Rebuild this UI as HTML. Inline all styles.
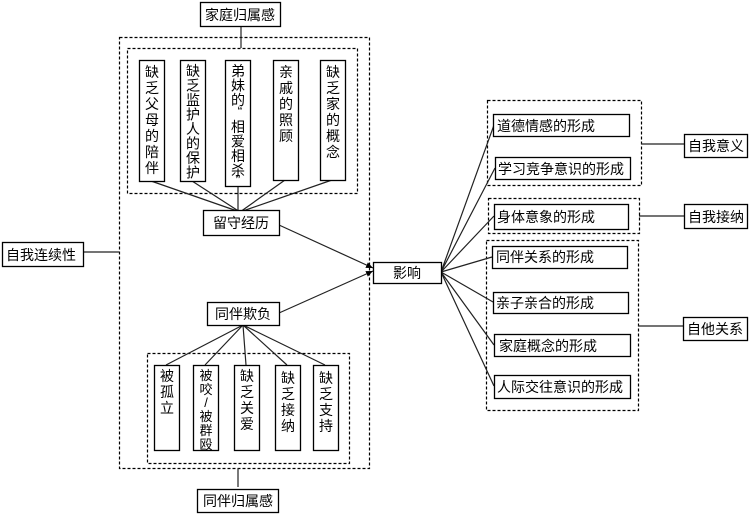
<!DOCTYPE html>
<html><head><meta charset="utf-8"><style>
body{margin:0;background:#fff}
svg{display:block}
text{font-family:"Liberation Sans","Noto Sans CJK SC",sans-serif;font-size:14px;fill:#000}
.v text{font-size:14px}
.b{fill:#fff;stroke:#000;stroke-width:1.3}
.d{fill:none;stroke:#000;stroke-width:1.2;stroke-dasharray:3,2}
.l{stroke:#222;stroke-width:1.2;fill:none}
</style></head><body>
<svg width="751" height="514" viewBox="0 0 751 514">
<defs><marker id="a" markerUnits="userSpaceOnUse" markerWidth="7" markerHeight="6" refX="7" refY="3" orient="auto"><path d="M0,0L7,3L0,6z" fill="#000"/></marker></defs>
<rect class="d" x="119.5" y="37.5" width="250" height="431"/>
<rect class="d" x="127.5" y="48.5" width="230" height="145"/>
<rect class="d" x="147.5" y="353.5" width="202" height="110"/>
<rect class="d" x="487.5" y="100.5" width="154" height="85"/>
<rect class="d" x="488.5" y="198.5" width="151" height="35"/>
<rect class="d" x="486.5" y="240.5" width="152" height="170"/>
<path class="l" d="M241 27V48M238 487V468M84 252H119M641 144H684M639 216H684M638 326H683"/>
<path class="l" d="M151 181L240 212M192 181L240 212M238 186V212M285 180L240 212M332 180L240 212"/>
<path class="l" d="M243 325L166 365M243 325L205 365M243 325L246 365M243 325L287 365M243 325L325 365"/>
<path class="l" d="M279 225L373 268" marker-end="url(#a)"/>
<path class="l" d="M279 313L373 271" marker-end="url(#a)"/>
<path class="l" d="M441 272L494 125M441 272L495 168M441 272L494 216M441 272L492 257M441 272L493 302M441 272L494 345M441 272L494 386"/>
<rect class="b" x="200.5" y="2.5" width="80" height="24"/><text x="205" y="20">家庭归属感</text>
<rect class="b" x="2.5" y="242.5" width="81" height="24"/><text x="6" y="260">自我连续性</text>
<rect class="b" x="203.5" y="210.5" width="76" height="25"/><text x="213" y="228">留守经历</text>
<rect class="b" x="207.5" y="302.5" width="72" height="23"/><text x="215" y="319">同伴欺负</text>
<rect class="b" x="197.5" y="489.5" width="81" height="23"/><text x="203" y="506">同伴归属感</text>
<rect class="b" x="373.5" y="262.5" width="68" height="21"/><text x="393" y="278">影响</text>
<rect class="b" x="139.5" y="60.5" width="25" height="121"/>
<rect class="b" x="180.5" y="60.5" width="25" height="121"/>
<rect class="b" x="225.5" y="60.5" width="25" height="126"/>
<rect class="b" x="273.5" y="60.5" width="25" height="120"/>
<rect class="b" x="320.5" y="60.5" width="25" height="120"/>
<g text-anchor="middle" class="v">
<text y="77"><tspan x="152">缺</tspan><tspan x="152" dy="16">乏</tspan><tspan x="152" dy="16">父</tspan><tspan x="152" dy="16">母</tspan><tspan x="152" dy="16">的</tspan><tspan x="152" dy="16">陪</tspan><tspan x="152" dy="16">伴</tspan></text>
<text y="76"><tspan x="193">缺</tspan><tspan x="193" dy="14.5">乏</tspan><tspan x="193" dy="14.5">监</tspan><tspan x="193" dy="14.5">护</tspan><tspan x="193" dy="14.5">人</tspan><tspan x="193" dy="14.5">的</tspan><tspan x="193" dy="14.5">保</tspan><tspan x="193" dy="14.5">护</tspan></text>
<text y="76"><tspan x="238">弟</tspan><tspan x="238" dy="14.5">妹</tspan><tspan x="238" dy="14.5">的</tspan><tspan x="240" dy="11">“</tspan><tspan x="238" dy="16">相</tspan><tspan x="238" dy="14.5">爱</tspan><tspan x="238" dy="14.5">相</tspan><tspan x="238" dy="14.5">杀</tspan><tspan x="238" dy="9">”</tspan></text>
<text y="77"><tspan x="286">亲</tspan><tspan x="286" dy="16">戚</tspan><tspan x="286" dy="16">的</tspan><tspan x="286" dy="16">照</tspan><tspan x="286" dy="16">顾</tspan></text>
<text y="77"><tspan x="333">缺</tspan><tspan x="333" dy="16">乏</tspan><tspan x="333" dy="16">家</tspan><tspan x="333" dy="16">的</tspan><tspan x="333" dy="16">概</tspan><tspan x="333" dy="16">念</tspan></text>
</g>
<rect class="b" x="154.5" y="365.5" width="25" height="85"/>
<rect class="b" x="193.5" y="365.5" width="25" height="85"/>
<rect class="b" x="234.5" y="365.5" width="25" height="85"/>
<rect class="b" x="275.5" y="365.5" width="25" height="85"/>
<rect class="b" x="313.5" y="365.5" width="25" height="85"/>
<g text-anchor="middle" class="v">
<text y="381"><tspan x="167">被</tspan><tspan x="167" dy="16">孤</tspan><tspan x="167" dy="16">立</tspan></text>
<text y="380" style="font-size:13px"><tspan x="206">被</tspan><tspan x="206" dy="14">咬</tspan><tspan x="206" dy="13">/</tspan><tspan x="206" dy="14">被</tspan><tspan x="206" dy="14">群</tspan><tspan x="206" dy="14">殴</tspan></text>
<text y="381"><tspan x="247">缺</tspan><tspan x="247" dy="16">乏</tspan><tspan x="247" dy="16">关</tspan><tspan x="247" dy="16">爱</tspan></text>
<text y="383"><tspan x="288">缺</tspan><tspan x="288" dy="16">乏</tspan><tspan x="288" dy="16">接</tspan><tspan x="288" dy="16">纳</tspan></text>
<text y="383"><tspan x="326">缺</tspan><tspan x="326" dy="16">乏</tspan><tspan x="326" dy="16">支</tspan><tspan x="326" dy="16">持</tspan></text>
</g>
<rect class="b" x="493.5" y="114.5" width="136" height="22"/><text x="497" y="131">道德情感的形成</text>
<rect class="b" x="495.5" y="157.5" width="135" height="22"/><text x="498" y="174">学习竞争意识的形成</text>
<rect class="b" x="494.5" y="204.5" width="134" height="25"/><text x="497" y="222">身体意象的形成</text>
<rect class="b" x="492.5" y="246.5" width="135" height="22"/><text x="496" y="262">同伴关系的形成</text>
<rect class="b" x="493.5" y="292.5" width="135" height="21"/><text x="496" y="308">亲子亲合的形成</text>
<rect class="b" x="494.5" y="334.5" width="136" height="22"/><text x="499" y="351">家庭概念的形成</text>
<rect class="b" x="494.5" y="375.5" width="136" height="23"/><text x="497" y="392">人际交往意识的形成</text>
<rect class="b" x="684.5" y="134.5" width="63" height="23"/><text x="688" y="151">自我意义</text>
<rect class="b" x="684.5" y="204.5" width="63" height="24"/><text x="688" y="222">自我接纳</text>
<rect class="b" x="683.5" y="317.5" width="64" height="23"/><text x="687" y="334">自他关系</text>
</svg>
</body></html>
